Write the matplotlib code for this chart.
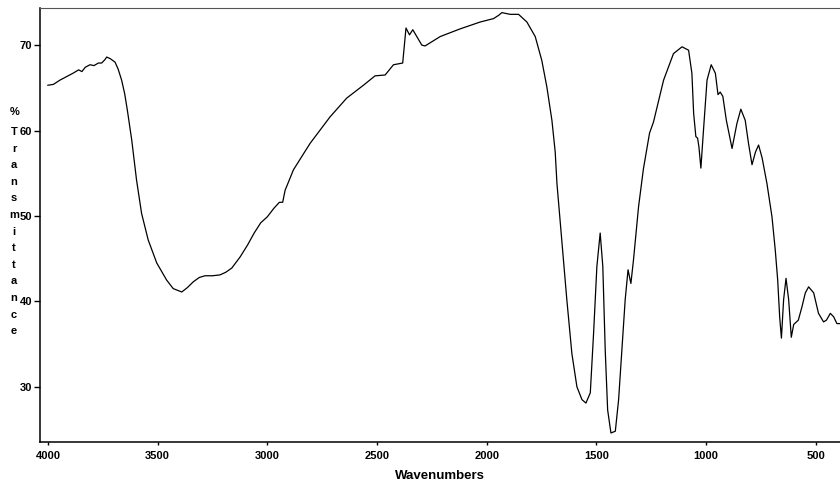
import matplotlib
matplotlib.use("Agg")
import matplotlib.pyplot as plt

# IR spectrum (wavenumber in cm-1, %T)
WAVENUMBER = [
    4000, 3975, 3945, 3915, 3886, 3860, 3845, 3830, 3808, 3790, 3770, 3755,
    3740, 3732, 3715, 3694, 3680, 3664, 3650, 3638, 3618, 3596, 3573, 3543,
    3504, 3459, 3429, 3390, 3365, 3337, 3310, 3284, 3250, 3216, 3190, 3162,
    3124, 3090, 3060, 3030, 3000, 2970, 2945, 2930, 2919, 2881, 2805, 2714,
    2638, 2562, 2509, 2463, 2425, 2383, 2368, 2352, 2337, 2319, 2296, 2281,
    2212, 2121, 2030, 1969, 1945, 1931, 1893, 1855, 1817, 1779, 1749, 1726,
    1703, 1688, 1680, 1658, 1635, 1612, 1589, 1566, 1548, 1528, 1513, 1498,
    1483, 1471, 1460, 1449, 1434, 1414, 1399, 1384, 1369, 1356, 1343, 1331,
    1308, 1286, 1258, 1240, 1194, 1149, 1110, 1080, 1065, 1057, 1047, 1039,
    1033, 1024, 1012, 996, 977, 958, 946, 936, 924, 908, 882, 860,
    842, 822, 807, 791, 775, 761, 745, 723, 700, 685, 674, 665,
    657, 647, 636, 624, 612, 601, 580, 563, 548, 533, 510, 488,
    465, 452, 434, 419, 404, 389,
]
TRANSMITTANCE = [
    65.3, 65.4, 65.9, 66.3, 66.7, 67.1, 66.9, 67.4, 67.7, 67.6, 67.9, 67.9,
    68.3, 68.6, 68.4, 68.0, 67.2, 65.9, 64.3, 62.4, 58.9, 54.2, 50.3, 47.2,
    44.5, 42.5, 41.5, 41.1, 41.6, 42.3, 42.8, 43.0, 43.0, 43.1, 43.4, 43.9,
    45.2, 46.6, 48.0, 49.2, 49.9, 50.9, 51.6, 51.6, 53.0, 55.4, 58.5, 61.6,
    63.8, 65.3, 66.4, 66.5, 67.7, 67.9, 72.0, 71.2, 71.8, 71.0, 70.0, 69.9,
    71.0, 71.9, 72.7, 73.1, 73.5, 73.8, 73.6, 73.6, 72.7, 71.0, 68.2, 65.1,
    61.2, 57.5, 53.8, 47.2, 40.2, 33.9, 30.0, 28.5, 28.1, 29.3, 36.3, 44.1,
    48.0, 44.1, 34.3, 27.3, 24.6, 24.8, 28.5, 34.3, 40.2, 43.7, 42.1, 44.9,
    51.1, 55.5, 59.7, 61.0, 65.9, 69.0, 69.8, 69.4, 66.7, 62.0, 59.3, 59.1,
    58.1, 55.6, 60.1, 65.9, 67.7, 66.7, 64.2, 64.5, 64.0, 61.2, 57.9, 60.8,
    62.5, 61.2, 58.5, 56.0, 57.5, 58.3, 56.8, 53.8, 49.9, 46.0, 42.5, 38.2,
    35.7, 40.2, 42.7, 40.2, 35.8, 37.3, 37.8, 39.4, 41.0, 41.7, 41.0, 38.6,
    37.6, 37.8, 38.6, 38.2, 37.4, 37.4,
]
X_TICKS = [4000, 3500, 3000, 2500, 2000, 1500, 1000, 500]
Y_TICKS = [30, 40, 50, 60, 70]

plt.rcParams['font.family'] = ['Liberation Sans', 'DejaVu Sans']
plt.rcParams['font.weight'] = 'bold'
plt.rcParams['font.size'] = 8

W, H = 840, 491
fig = plt.figure(figsize=(W / 100, H / 100), dpi=100)
ax = fig.add_axes([40 / W, 1 - 441.5 / H, 1 - 40 / W, (441.5 - 7.5) / H])

ax.plot(WAVENUMBER, TRANSMITTANCE, color='black', lw=0.9,
        solid_joinstyle='round')

ax.set_xlim(4036, 390)
ax.set_ylim(23.6, 74.4)
ax.set_xticks(X_TICKS)
ax.set_yticks(Y_TICKS)
ax.tick_params(axis='y', length=4, width=1, pad=1.5)
ax.tick_params(axis='x', length=2.5, width=1, pad=4.5)

ax.spines['right'].set_visible(False)
ax.spines['top'].set_color('#555555')
for s in ('left', 'bottom'):
    ax.spines[s].set_linewidth(1.1)

ax.set_xlabel('Wavenumbers', fontweight='bold', fontsize=9.5, labelpad=6)

# stacked y label, one letter per row
fig.text(15 / W, 1 - 112 / H, '%', ha='center', va='center', fontweight='bold')
for i, ch in enumerate('Transmittance'):
    fig.text(14 / W, 1 - (132 + i * 16.6) / H, ch, ha='center', va='center',
             fontweight='bold')

fig.savefig('out.png', dpi=100)
